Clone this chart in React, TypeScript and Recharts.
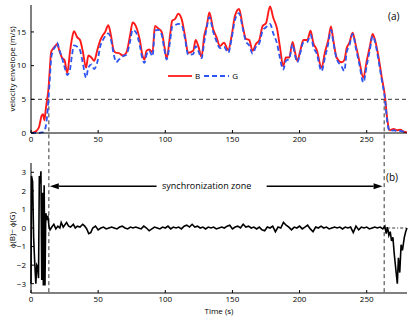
import React from "react";
import { LineChart, Line, XAxis, YAxis, ReferenceLine } from "recharts";

// time stamps (s) for the envelope panel
const timeA = [
  0, 2, 4, 6, 8, 9, 10, 11, 12, 13, 14, 15, 16, 18, 19.5, 21, 23, 25, 27, 29,
  30.5, 32, 34.5, 36.5, 38.5, 41, 42.7, 45, 47, 49.5, 51.5, 53.5, 55, 57.6, 59.6,
  61.7, 63.5, 65, 68.5, 71, 73.7, 75.7, 78, 81, 83, 84.5, 86, 88, 90.5, 92.3,
  94.8, 97.3, 99.3, 101, 103.5, 105.2, 107.2, 109.7, 112.2, 114.7, 117, 120.8,
  122.6, 124.6, 127, 129, 131, 132.8, 135.7, 138.2, 140.7, 143.7, 146.9, 149.4,
  151.9, 155, 157.6, 160, 162.5, 165, 167.5, 170, 172.5, 175, 178, 180.4, 183.3,
  185.3, 187.8, 189.8, 192.3, 194.8, 196.6, 198.3, 200.3, 202.8, 205.8, 208.2,
  210.2, 212.7, 216.4, 218.9, 221.4, 223.4, 225.1, 227.6, 231.3, 233.3, 235.1,
  237.1, 239.5, 242, 244.5, 247.5, 250, 252.4, 254.4, 256.2, 258.6, 261.1,
  263.6, 265.4, 267, 270, 272.5, 275, 277.5, 280,
];

// velocity envelope, series B (m/s)
const velB = [
  0, 0.1, 0.3, 0.9, 2.6, 2.8, 1.9, 3.5, 5.0, 6.5, 9.5, 12.0, 12.4, 12.9, 13.2, 12.3, 11.2, 10.8, 8.9, 12.0,
  14.0, 15.1, 14.2, 13.8, 12.2, 9.7, 11.5, 11.2, 10.7, 12.4, 13.7, 14.5, 14.9, 16.0, 14.4,
  12.2, 11.9, 11.9, 11.5, 11.9, 14.4, 16.4, 15.9, 13.8, 11.5, 10.9, 12.2, 12.4, 12.0, 15.9,
  15.5, 15.0, 12.9, 11.0, 14.4, 16.7, 16.9, 17.7, 16.9, 14.4, 11.9, 12.2,
  13.8, 12.9, 11.3, 14.4, 16.0, 17.9, 15.4, 14.2, 12.9, 13.4, 12.3, 14.4,
  17.4, 18.4, 15.9, 14.0, 13.8, 12.2, 13.2, 13.8, 15.9, 16.3, 18.8, 17.1, 15.4,
  12.9, 9.9, 11.2, 11.2, 13.5, 12.0, 10.7, 12.0, 13.8, 13.8, 15.2,
  13.4, 12.4, 9.7, 12.0, 13.8, 15.8, 13.8, 11.2, 10.5, 10.8, 12.6,
  13.4, 14.9, 12.9, 10.7, 8.2, 10.7, 12.9, 14.7, 13.8, 11.5, 8.4,
  5.4, 1.9, 0.4, 0.6, 0.4, 0.5, 0.2, 0.1,
];

// velocity envelope, series G (m/s)
const velG = [
  0, 0, 0, 0, 0.1, 0.1, 0.3, 1.0, 2.5, 5.0, 8.0, 11.0, 12.0, 12.8, 13.4, 12.4, 11.2, 9.8, 8.6, 9.4,
  11.5, 13.0, 12.8, 12.3, 10.5, 8.2, 9.7, 10.2, 9.5, 10.6, 12.8, 13.8, 14.3, 14.8, 13.8,
  11.6, 10.5, 10.8, 11.4, 11.6, 13.5, 15.3, 15.0, 13.0, 11.0, 10.4, 11.6, 12.2, 11.4, 15.2,
  15.3, 14.6, 12.4, 10.9, 13.5, 15.8, 16.0, 16.2, 16.0, 14.0, 11.6, 11.7,
  12.9, 12.2, 11.1, 13.5, 15.8, 17.2, 15.0, 13.6, 12.6, 12.8, 11.9, 14.0,
  16.8, 17.8, 15.6, 13.6, 13.0, 11.8, 12.8, 13.3, 15.2, 15.7, 16.2, 14.8, 13.2,
  11.2, 9.4, 10.7, 11.0, 13.2, 11.5, 10.5, 11.7, 13.4, 13.5, 14.6,
  12.8, 11.8, 9.2, 11.2, 13.3, 15.3, 13.5, 11.0, 9.9, 9.2, 12.0,
  13.0, 14.7, 12.5, 10.2, 7.5, 10.0, 12.4, 14.4, 13.5, 11.0, 8.0,
  5.0, 1.5, 0.3, 0.4, 0.3, 0.3, 0.2, 0.1,
];

// time stamps (s) for the phase panel
const timeP = [
  0, 0.4, 1.2, 2.0, 2.8, 3.6, 4.3, 5.0, 5.6, 6.2, 6.8, 7.4, 8.0, 8.6, 9.2, 9.8, 10.4, 11.0, 11.8, 12.6,
  13.4, 14.2, 15.5, 17, 18.5, 20, 21.5, 22.5, 24, 25, 26.5, 28, 29.5, 31.5, 33, 34.5, 36.5, 38.5, 40,
  41.5, 43, 44.5, 46, 48, 50, 52, 54, 56, 58, 60, 62, 64, 66, 68, 70, 72, 74, 76, 78, 80, 82, 84, 86,
  88, 90, 92, 94, 96, 98, 100, 102, 104, 106, 108, 110, 112, 114, 116, 118, 120, 122, 124, 126, 128,
  130, 132, 134, 136, 138, 140, 142, 144, 146, 148, 150, 152, 154, 156, 158, 160, 162, 164, 166, 168,
  170, 172, 174, 176, 178, 180, 182, 184, 186, 188, 190, 192, 194, 196, 198, 200, 202, 204, 206, 208,
  210, 212, 214, 216, 218, 220, 222, 224, 226, 228, 230, 232, 234, 236, 238, 240, 242, 244, 246, 248,
  250, 252, 254, 256, 258, 260, 262, 263.5, 264.5, 265.5, 266.5, 267.5, 268.5, 269.5, 270.5, 271.5,
  272.8, 273.6, 274.6, 275.6, 276.6, 278, 279, 280,
];

// phase difference phi(B) - phi(G)
const phaseDiff = [
  -3.0, 2.8, 2.5, -0.6, -1.9, -3.0, -2.0, -2.1, -2.7, 2.8, 2.4, 3.05, -2.8, 1.9, -3.1, 2.3, -3.1, 0.8, 0.5, 0.6,
  0.1, -0.1, 0.05, 0.2, -0.05, 0.1, 0.0, 0.3, 0.05, 0.15, 0.3, 0.1, 0.05, 0.2, 0.0, 0.1, 0.05, 0.2, 0.1,
  -0.05, -0.3, -0.25, 0.0, 0.1, -0.1, 0.0, 0.05, -0.05, 0.0, 0.05, 0.0, -0.05, 0.05, 0.1, 0.0, -0.05, 0.05, 0.0, 0.05, 0.0, -0.05, 0.1, 0.0,
  -0.15, -0.05, 0.05, 0.0, -0.05, 0.05, 0.0, 0.1, -0.05, 0.05, 0.0, 0.05, -0.05, 0.1, 0.15, 0.05, 0.2, 0.05, 0.1, 0.0, 0.05,
  -0.05, 0.05, 0.0, 0.05, -0.05, 0.0, 0.05, 0.0, 0.1, 0.15, -0.05, 0.05, 0.1, 0.0, 0.2, 0.05, 0.1, 0.0, 0.05, -0.05,
  0.05, -0.1, -0.15, 0.05, 0.0, 0.1, -0.2, 0.05, 0.0, 0.3, 0.15, 0.05, -0.1, 0.05, 0.0, 0.1, -0.05, 0.05, 0.15, -0.05,
  -0.2, 0.05, 0.0, 0.1, 0.0, 0.05, -0.05, 0.0, 0.05, 0.0, 0.05, -0.05, 0.05, 0.0, 0.05, -0.25, 0.1, -0.1, 0.05, 0.0,
  0.05, -0.05, 0.0, 0.05, 0.0, 0.05, -0.05, 0.1, -0.3, 0.05, -0.4, -0.2, -0.7, -0.5, -1.4, -2.1,
  -3.0, -1.6, -2.4, -0.9, -1.2, -0.5, -0.2, 0.0,
];

const timeTicks = [0, 50, 100, 150, 200, 250];
const velTicks = [0, 5, 10, 15];
const phaseTicks = [-3, -2, -1, 0, 1, 2, 3];
const syncStart = 13.3;
const syncEnd = 263;

const FONT = "'Open Sans', sans-serif";
const tickStyle = { fontSize: 8, fill: "#000", fontFamily: FONT };
const blank = () => "";

const envelopeRows = timeA.map((t, i) => ({ t, B: velB[i], G: velG[i] }));
const phaseRows = timeP.map((t, i) => ({ t, d: phaseDiff[i] }));

function Arrow(props: any) {
  const { x1, y1, x2, y2 } = props;
  const ang = Math.atan2(y2 - y1, x2 - x1);
  const len = 9;
  const half = 3;
  const bx = x2 - len * Math.cos(ang);
  const by = y2 - len * Math.sin(ang);
  const px = -Math.sin(ang) * half;
  const py = Math.cos(ang) * half;
  return (
    <g>
      <line x1={x1} y1={y1} x2={bx} y2={by} stroke="#000" strokeWidth={1.5} />
      <polygon points={`${x2},${y2} ${bx + px},${by + py} ${bx - px},${by - py}`} fill="#000" />
    </g>
  );
}

export default function App() {
  return (
    <div style={{ position: "absolute", left: 0, top: 0, width: 415, height: 320, background: "#fff", fontFamily: FONT }}>
      <div style={{ position: "absolute", left: 0, top: 0 }}>
        <LineChart width={415} height={150} data={envelopeRows} margin={{ top: 5, right: 8, bottom: 0, left: 0 }}>
          <XAxis xAxisId="b" dataKey="t" type="number" domain={[0, 280]} ticks={timeTicks} interval={0}
            height={17} tickSize={-3} tickMargin={6} tick={tickStyle} stroke="#000" />
          <XAxis xAxisId="t" orientation="top" dataKey="t" type="number" domain={[0, 280]} ticks={timeTicks}
            interval={0} height={0} tickSize={-3} tickFormatter={blank} stroke="#000" />
          <YAxis yAxisId="l" type="number" domain={[0, 19]} ticks={velTicks} interval={0} width={31}
            tickSize={-3} tickMargin={8} tick={tickStyle} stroke="#000" />
          <YAxis yAxisId="r" orientation="right" type="number" domain={[0, 19]} ticks={velTicks} interval={0}
            width={0} tickSize={-3} tickFormatter={blank} stroke="#000" />
          <ReferenceLine xAxisId="b" yAxisId="l" y={5} stroke="#000" strokeWidth={0.8} strokeDasharray="4 3" />
          <ReferenceLine xAxisId="b" yAxisId="l" ifOverflow="visible"
            segment={[{ x: syncStart, y: 5 }, { x: syncStart, y: -2.7 }]} stroke="#000" strokeWidth={0.8} strokeDasharray="4 3" />
          <ReferenceLine xAxisId="b" yAxisId="l" ifOverflow="visible"
            segment={[{ x: syncEnd, y: 5 }, { x: syncEnd, y: -2.7 }]} stroke="#000" strokeWidth={0.8} strokeDasharray="4 3" />
          <Line xAxisId="b" yAxisId="l" type="monotone" dataKey="B" stroke="#ff1a1a" strokeWidth={1.9}
            dot={false} isAnimationActive={false} />
          <Line xAxisId="b" yAxisId="l" type="monotone" dataKey="G" stroke="#2f55f0" strokeWidth={1.8}
            strokeDasharray="5 3" dot={false} isAnimationActive={false} />
        </LineChart>
      </div>
      <div style={{ position: "absolute", left: 0, top: 150 }}>
        <LineChart width={415} height={170} data={phaseRows} margin={{ top: 13, right: 8, bottom: 0, left: 0 }}>
          <XAxis xAxisId="b" dataKey="t" type="number" domain={[0, 280]} ticks={timeTicks} interval={0}
            height={27} tickSize={-3} tickMargin={6} tick={tickStyle} stroke="#000"
            label={{ value: "Time (s)", position: "insideBottom", offset: 6, fontSize: 8, fill: "#000", fontFamily: FONT }} />
          <XAxis xAxisId="t" orientation="top" dataKey="t" type="number" domain={[0, 280]} ticks={timeTicks}
            interval={0} height={0} tickSize={-3} tickFormatter={blank} stroke="#000" />
          <YAxis yAxisId="l" type="number" domain={[-3.5, 3.5]} ticks={phaseTicks} interval={0} width={31}
            tickSize={-3} tickMargin={8} tick={tickStyle} stroke="#000"
            tickFormatter={(v: number) => (v < 0 ? `\u2212${Math.abs(v)}` : `${v}`)} />
          <YAxis yAxisId="r" orientation="right" type="number" domain={[-3.5, 3.5]} ticks={phaseTicks} interval={0}
            width={0} tickSize={-3} tickFormatter={blank} stroke="#000" />
          <ReferenceLine xAxisId="b" yAxisId="l" ifOverflow="visible"
            segment={[{ x: syncStart, y: 4.3 }, { x: syncStart, y: -3.5 }]} stroke="#000" strokeWidth={0.8} strokeDasharray="4 3" />
          <ReferenceLine xAxisId="b" yAxisId="l" ifOverflow="visible"
            segment={[{ x: syncEnd, y: 4.3 }, { x: syncEnd, y: -3.5 }]} stroke="#000" strokeWidth={0.8} strokeDasharray="4 3" />
          <ReferenceLine xAxisId="b" yAxisId="l" segment={[{ x: syncEnd, y: 0 }, { x: 280, y: 0 }]}
            stroke="#000" strokeWidth={0.8} strokeDasharray="3 2 1 2" />
          <ReferenceLine xAxisId="b" yAxisId="l" segment={[{ x: 93.5, y: 2.25 }, { x: 14, y: 2.25 }]} shape={Arrow} />
          <ReferenceLine xAxisId="b" yAxisId="l" segment={[{ x: 175.5, y: 2.25 }, { x: 261.8, y: 2.25 }]} shape={Arrow} />
          <Line xAxisId="b" yAxisId="l" type="linear" dataKey="d" stroke="#000" strokeWidth={1.6}
            dot={false} isAnimationActive={false} />
        </LineChart>
      </div>

      {/* legend of panel (a) */}
      <div style={{ position: "absolute", left: 168, top: 71, display: "flex", alignItems: "center", fontSize: 8, lineHeight: "10px" }}>
        <svg width={24} height={10}><line x1={0} y1={5} x2={24} y2={5} stroke="#ff1a1a" strokeWidth={1.8} /></svg>
        <span style={{ margin: "0 4px 0 3px" }}>B</span>
        <svg width={25} height={10}><line x1={0} y1={5} x2={25} y2={5} stroke="#2f55f0" strokeWidth={1.8} strokeDasharray="5 3" /></svg>
        <span style={{ marginLeft: 3 }}>G</span>
      </div>

      <div style={{ position: "absolute", left: 388, top: 10, fontSize: 10, lineHeight: "12px" }}>(a)</div>
      <div style={{ position: "absolute", left: 386, top: 171, fontSize: 10, lineHeight: "12px" }}>(b)</div>
      <div style={{ position: "absolute", left: 162, top: 180, fontSize: 9, lineHeight: "11px", whiteSpace: "nowrap" }}>
        synchronization zone
      </div>

      {/* y axis titles */}
      <div style={{ position: "absolute", left: 11, top: 69, transform: "translate(-50%, -50%) rotate(-90deg)", fontSize: 8, whiteSpace: "nowrap", lineHeight: "9px" }}>
        velocity envelope (m/s)
      </div>
      <div style={{ position: "absolute", left: 11, top: 230, transform: "translate(-50%, -50%) rotate(-90deg)", fontSize: 8, whiteSpace: "nowrap", lineHeight: "9px" }}>
        {"\u03d5(B)\u2212 \u03d5(G)"}
      </div>
    </div>
  );
}
